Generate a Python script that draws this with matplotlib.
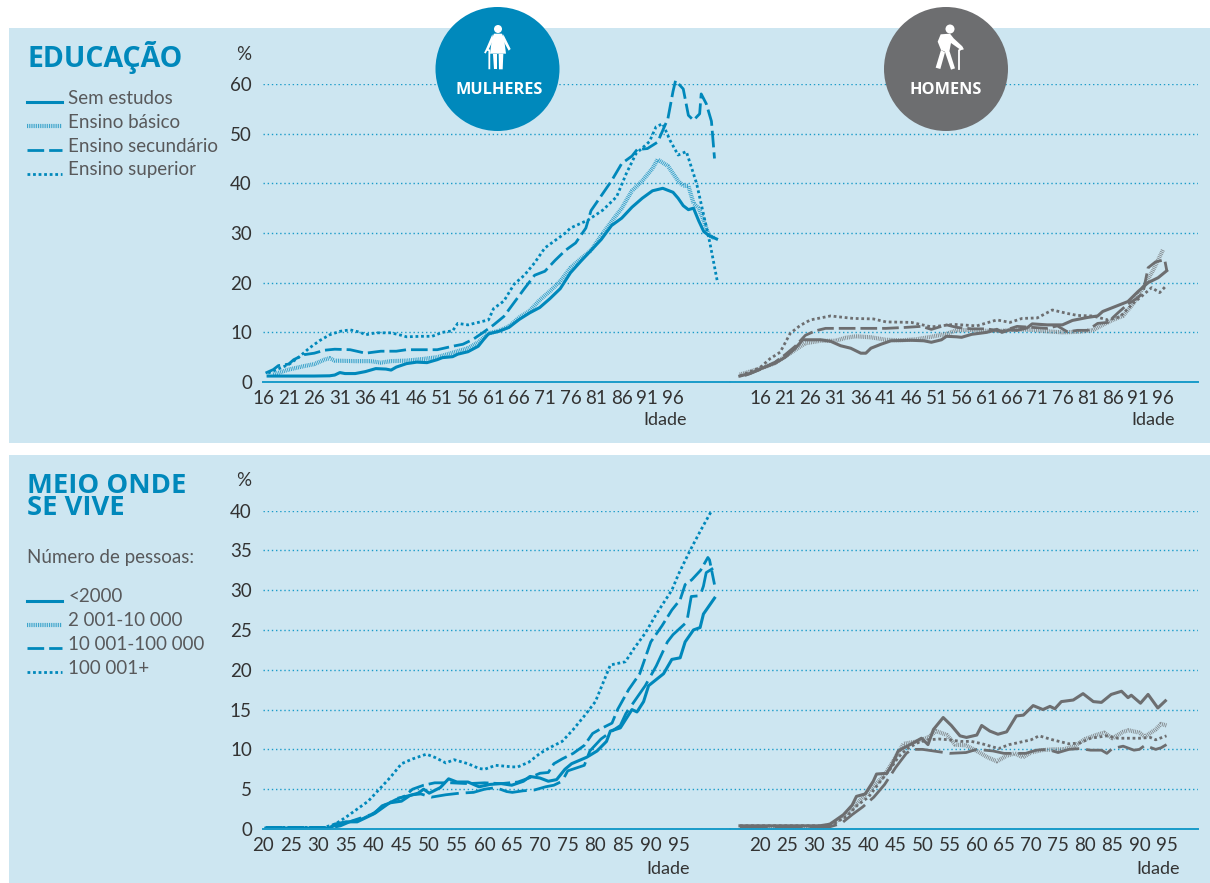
import matplotlib
matplotlib.use("Agg")
import matplotlib.pyplot as plt
from matplotlib.patches import Circle, Rectangle, Polygon

W, H = 1210, 883
blue = "#0088BB"
grey = "#6D6E70"
panel = "#CDE6F1"
txt = "#58595B"
plt.rcParams["font.family"] = ["Lato", "DejaVu Sans"]

# education, women
we_sem_a = [17,21,26,29,30,31,32,34,36,38,40,41,42,44,46,48,50,51,53,54,56,58,59,60,62,64,66,68,70,72,74,76,78,80,82,84,86,88,90,92,94,96,97,98,99,100,101,102,103,104.5]
we_sem_v = [1.2,1.2,1.2,1.25,1.4,1.9,1.7,1.7,2.1,2.7,2.6,2.4,3.0,3.7,4.0,3.9,4.5,4.9,5.1,5.6,6.1,7.2,8.5,9.7,10.2,11,12.6,13.9,15,16.8,18.8,22,24.3,26.5,28.7,31.5,33,35.2,37,38.5,39,38.2,37,35.5,34.7,35,32.5,30.3,29.5,28.8]
we_bas_a = [18,21,24,26,28,29,30,34,37,39,41,44,47,50,53,56,58,60,62,64,66,68,70,72,74,76,78,80,82,84,86,88,90,92,93,95,97,98,99,100,101,102,103,104]
we_bas_v = [1.5,2.5,3.2,3.6,4.5,4.8,4.3,4.2,4.2,3.9,4.2,4.3,4.6,5,5.9,6.8,8,9.8,10.3,11.2,13,14.3,16.5,18.3,20.3,23,24.8,26.5,29.5,32.3,35,38.5,40.5,43,44.8,43.5,40.5,39.5,39.5,36,35,32.5,29.5,29]
we_sec_a = [16.5,18,19,21,22,24,26,28,30,33,36,39,42,44,47,50,53,55,57,59,61,63,65,67,69,71,73,75,77,79,80,82,84,86,88,89,91,93,95,96,96.5,98,99,100,101.2,101.5,102.5,103.5,104.1]
we_sec_v = [1.8,2.5,3.3,3.6,4.5,5.5,5.8,6.4,6.6,6.5,5.8,6.2,6.2,6.5,6.5,6.5,7.2,7.6,8.6,10,11.5,13.2,16,18.8,21.5,22.3,24.5,26.5,28,31,34.5,37.5,40.5,44,45.5,46.8,47,48.3,53,58.5,60.7,59,53.7,52.7,54,58,56,52.5,45]
we_sup_a = [17,21,23,25,27,29,31,33,35,36,38,41,43,44,47,49,51,53,54,56,58,60,61,63,65,67,69,71,73,75,76,79.4,82.3,85,86.9,88.8,91.4,92.7,94,95.4,97,98.6,100.6,101.9,103.2,104.7]
we_sup_v = [1.8,3.5,5,6.8,8.3,9.5,10.2,10.5,10,9.5,9.9,9.9,9.4,9.1,9.2,9.2,10,10.3,11.8,11.5,12,12.5,14.8,16.3,19.7,21.5,24,27,28.5,30,31,32.6,34.6,37.3,42,46,48.4,51.4,52,48.7,45.7,46.4,40,34,28,20]

# education, men
me_sem_a = [12,14,16,19,21,23,24.5,26,28,30,32,34,36,37,38,40,42,46,48.5,50,52,53,55,56,58,61,63,64,65.5,67,69,70,73,76,78,81,83,84,87,89,91,93,95,96.7]
me_sem_v = [1.2,1.7,2.6,3.8,5,6.8,8.5,8.5,8.5,8.2,7.3,6.8,5.8,5.8,6.8,7.6,8.3,8.4,8.3,8,8.5,9.2,9.1,9,9.6,10,10.6,10,10.5,10.4,10.9,11.7,11.5,11.5,12.4,13,13.3,14.2,15.4,16.2,18.2,20,21,22.4]
me_bas_a = [12,16,19,21,23,25,28,31,33,35,38,41,44,47,50,53,55,58,61,64,67,70,73,76,79,82,84,86,88,90,92,94,96]
me_bas_v = [1.5,2.7,3.8,5.1,6.5,7.8,8.3,8.3,8.9,9.2,9,8.5,8.4,8.6,9.1,9.7,10.4,10.5,10.3,10.3,10.6,10.5,10.2,10,10.1,10.4,11.5,12.5,13.3,15.7,19,22.5,26.7]
me_sec_a = [13,16,19,21,23,25,27,29,33,37,41,45,48,50,53,55,58,61,64,67,70,73,75,77,79,81,83,85,87,89,91,92,92.5,93,94.5,96.3,96.7]
me_sec_v = [1.3,2.5,4,5.5,7.2,9.4,10.3,10.8,10.8,10.8,10.8,11,11.2,10.6,11.5,11,10.7,10.7,10.2,11.2,11,10.8,11.3,10.1,10.4,10.4,11.8,12,13.9,15.7,17,18,20.5,23,24.2,24.6,22.5]
me_sup_a = [12,16,18,20,22,24,26,30,34.5,38.5,41,46,50,54.5,59,63,65.6,68,71,74,77,79,82,85,87.4,90,92,93.7,95.3,96.7]
me_sup_v = [1.2,2.9,4.7,6,9.8,11.4,12.5,13.3,12.8,12.7,12.1,12,11.1,11.6,11.3,12.5,12,12.8,12.9,14.5,13.8,13.4,13.3,12.5,13.1,15.8,17.5,19,18,19.5]

# place of living, women
wm_a_a = [20.5,30,32,32.9,35,37,38.5,40,41.5,43,45,46.5,48,49,50,52,53.5,55,57,59,61,63,64.9,67,68.2,70,71.5,73,74.5,75.7,78.4,80.3,82,82.7,84.5,86.6,87.5,88.7,89.6,92.3,93.8,95.3,96.2,97.7,98.9,99.5,101.5]
wm_a_v = [0.1,0.1,0.1,0.6,0.9,0.9,1.4,1.9,2.9,3.3,3.5,4.2,4.5,5,4.5,5.2,6.3,5.9,5.9,5.3,5.6,5.7,5.5,6,6.6,6.4,6.0,6.2,7.5,8.2,9,9.8,11,12.3,12.7,15,14.7,16,18,19.5,21.3,21.5,23.5,25,25.3,27,29]
wm_b_a = [20.5,32,34,36,40.3,43.9,47,48.5,50.4,53,55.5,58,60,62,64,65,67,69,71,72.5,74,75,78,79,81,83,84.5,85.5,87,89,91,93,94,96.5,97.3,98.9,99.5,100,101.6]
wm_b_v = [0.1,0.1,0.4,1,2,3.8,4.3,4.4,4.0,4.3,4.5,4.6,5,5.2,4.7,4.6,4.8,4.9,5.3,5.5,6,7.3,8,9.8,11.3,12.3,13,14.5,16,18,20.5,23.5,24.4,26,29.2,29.3,30.5,32.2,32.9]
wm_c_a = [20.5,32,35,38,40,42,44,45.5,47,49,51,54,57,60,63,66,68,70,71.5,72.5,74,76,78,79.5,81,83,84,86,88,90,92,93.8,95.3,96.2,97.4,99,100.3,100.6,101.5]
wm_c_v = [0.2,0.2,0.8,1.3,2,3,3.7,4.1,5,5.5,5.8,5.8,5.7,5.8,5.7,5.9,6.4,7,7.1,8.2,8.8,9.5,10.5,12,12.6,13.3,15,17.5,19.5,23.5,25.5,27.5,28.8,30.7,31.3,32.5,34.1,33.8,30.7]
wm_d_a = [20.5,31,33,35,37,39,41,43,45,47,49.5,51,53,54.5,57,59,60,62,65,66,68,70,72,74,76,78,80,82.7,85.4,87,89,91,93.8,95,97.1,99,101]
wm_d_v = [0.2,0.2,0.6,1.5,2.5,3.5,5,6.5,8.2,8.8,9.4,9,8.3,8.7,8.2,7.6,7.5,8,7.8,7.8,8.4,9.5,10.3,11,12.5,14.2,16,20.6,21,22.7,24.6,27,30,32,35,37.5,40]

# place of living, men
mm_a_a = [16.3,31,32.9,35.4,37,37.8,39.4,40.9,41.5,43.4,44.3,45.5,47.7,49.8,51,52,53.8,55.3,56.9,58.1,60,60.9,62.4,63.9,65.5,67.3,68.6,70.4,72.2,73.5,74.4,75.6,77.8,79.6,81.5,83,84.8,86.7,87.9,88.5,90.2,91.6,93.4,94.8]
mm_a_v = [0.4,0.4,0.6,1.8,3,4.1,4.4,6,6.9,7,8,9.8,10.6,11.4,10.6,12.5,14,13,11.7,11.5,11.8,13,12.3,11.9,12.2,14.2,14.3,15.5,15,15.4,15.1,16,16.2,17,16,15.9,16.9,17.3,16.5,16.8,15.8,16.9,15.2,16.1]
mm_b_a = [16.3,31.5,33,35,37,39,41,43,45,46.5,49,51,52.5,54.5,56,58,60,62,63.7,65.5,67,68.5,70,72,74,76,78,80,82,83.5,85,87,88,90,91,93,94,95]
mm_b_v = [0.2,0.2,0.6,1.4,2.6,4,5.4,6.8,9,10.7,11,11.5,12.3,11.8,10.6,10.5,9.8,9,8.5,9.2,9.5,9,9.6,9.9,10,10,10.4,11.3,11.8,12.1,11.4,12.2,12.4,12.1,11.6,12.5,13.2,13]
mm_c_a = [16.3,33,35,37,39,41,43,45,47,48,50,52,55,58,60,63,65,67,69,71,73,75,77,79,81,83,84,85,87,89,90,91,93,94,95]
mm_c_v = [0.3,0.3,0.7,1.8,2.8,4,5.6,7.7,9.5,10,10,9.8,9.5,9.6,10,9.8,9.5,9.5,9.5,9.9,10,9.6,10,10.1,9.9,9.9,9.5,10.1,10.4,9.9,10,10.5,10,10.2,10.6]
mm_d_a = [16.3,32,34,36,38,40,42,44,45.5,47,49,51,53,55,57,59,61,64,66,68,70,71.5,74,77,79,81,84,86,88,90,92,93,95]
mm_d_v = [0.4,0.4,0.8,1.6,3,4,5.8,7.5,9,10,10.8,11.2,11.3,11.2,11,11,10.7,10.1,10.6,10.9,11.2,11.7,11.2,10.7,10.8,11.4,11.7,11.4,11.4,11.4,11.5,11.2,11.7]

edu_ticks = list(range(16, 97, 5))
mei_ticks = list(range(20, 96, 5))
edu_y = [0, 10, 20, 30, 40, 50, 60]
mei_y = [0, 5, 10, 15, 20, 25, 30, 35, 40]
edu_legend = ["Sem estudos", "Ensino básico", "Ensino secundário", "Ensino superior"]
mei_legend = ["<2000", "2 001-10 000", "10 001-100 000", "100 001+"]

solid = dict(ls="-", lw=2.2)
hatch = dict(ls=(0, (0.22, 0.22)), lw=3.0, alpha=0.75)
dashed = dict(ls=(0, (6, 1.8)), lw=2.0)
longdash = dict(ls=(0, (10, 2.5)), lw=2.0)
dotted = dict(ls=(0, (1, 1)), lw=2.0)


def px_axes(x0, x1, ytop, ybot):
    return fig.add_axes([x0 / W, 1 - ybot / H, (x1 - x0) / W, (ybot - ytop) / H])


def setup(ax, xlim, ymax, xticks, yticks, show_y):
    ax.set_xlim(*xlim)
    ax.set_ylim(0, ymax)
    ax.patch.set_alpha(0)
    for s in ["top", "left", "right"]:
        ax.spines[s].set_visible(False)
    ax.spines["bottom"].set_color("#1A9BC9")
    ax.spines["bottom"].set_linewidth(1.4)
    ax.set_xticks(xticks)
    ax.set_yticks(yticks)
    ax.tick_params(length=0, labelsize=13.5, labelcolor="#333333", pad=6)
    ax.tick_params(axis="y", labelleft=show_y, pad=8)
    ax.grid(axis="y", color="#1A9BC9", lw=1.0, ls=(0, (1, 2)))
    ax.grid(axis="x", visible=False)
    ax.set_axisbelow(True)


def draw(ax, a, v, color, style):
    ax.plot(a, v, color=color, clip_on=False, solid_joinstyle="round", **style)


fig = plt.figure(figsize=(W / 100, H / 100), dpi=100)

bg = fig.add_axes([0, 0, 1, 1], zorder=0)
bg.set_xlim(0, W)
bg.set_ylim(H, 0)
bg.axis("off")
bg.add_patch(Rectangle((9, 28), W - 9, 415, color=panel, lw=0))
bg.add_patch(Rectangle((9, 455), W - 9, 428, color=panel, lw=0))

ax1 = px_axes(263, 730, 84, 382)
ax2 = px_axes(730, 1198, 84, 382)
ax3 = px_axes(263, 730, 510.5, 829)
ax4 = px_axes(730, 1198, 510.5, 829)
for ax in [ax1, ax2, ax3, ax4]:
    ax.set_zorder(1)

setup(ax1, (16, 16 + 467 / 5.125), 60, edu_ticks, edu_y, True)
setup(ax2, (16 - 30 / 5.04, 16 + 438 / 5.04), 60, edu_ticks, edu_y, False)
setup(ax3, (20, 20 + 467 / 5.54), 40, mei_ticks, mei_y, True)
setup(ax4, (20 - 30 / 5.42, 20 + 438 / 5.42), 40, mei_ticks, mei_y, False)

draw(ax1, we_bas_a, we_bas_v, blue, hatch)
draw(ax1, we_sem_a, we_sem_v, blue, solid)
draw(ax1, we_sec_a, we_sec_v, blue, dashed)
draw(ax1, we_sup_a, we_sup_v, blue, dotted)

draw(ax2, me_bas_a, me_bas_v, grey, hatch)
draw(ax2, me_sem_a, me_sem_v, grey, solid)
draw(ax2, me_sec_a, me_sec_v, grey, dashed)
draw(ax2, me_sup_a, me_sup_v, grey, dotted)

draw(ax3, wm_b_a, wm_b_v, blue, longdash)
draw(ax3, wm_a_a, wm_a_v, blue, solid)
draw(ax3, wm_c_a, wm_c_v, blue, dashed)
draw(ax3, wm_d_a, wm_d_v, blue, dotted)

draw(ax4, mm_b_a, mm_b_v, grey, hatch)
draw(ax4, mm_a_a, mm_a_v, grey, solid)
draw(ax4, mm_c_a, mm_c_v, grey, longdash)
draw(ax4, mm_d_a, mm_d_v, grey, dotted)

# overlay for titles, legends and the two badges
top = fig.add_axes([0, 0, 1, 1], zorder=5)
top.set_xlim(0, W)
top.set_ylim(H, 0)
top.axis("off")
top.patch.set_alpha(0)

bold = ["Open Sans", "DejaVu Sans"]
top.text(27, 58, "EDUCAÇÃO", color=blue, fontsize=20.5, fontweight="bold", family=bold, va="center")
top.text(27, 497, "MEIO ONDE\nSE VIVE", color=blue, fontsize=19.7, fontweight="bold", family=bold, va="center", linespacing=0.8)
top.text(27, 557, "Número de pessoas:", color=txt, fontsize=13.5, va="center")

styles = [solid, hatch, dashed, dotted]
for i, lab in enumerate(edu_legend):
    y = 97 + i * 24
    top.plot([27, 62], [y + 5, y + 5], color=blue, **styles[i])
    top.text(68, y + 1, lab, color=txt, fontsize=13.5, va="center")
for i, lab in enumerate(mei_legend):
    y = 596 + i * 23.7
    top.plot([27, 62], [y + 5, y + 5], color=blue, **styles[i])
    top.text(68, y + 1, lab, color=txt, fontsize=13.5, va="center")

for x, y in [(244, 55), (244, 481)]:
    top.text(x, y, "%", color="#333333", fontsize=13.5, ha="center", va="center")
for x, y in [(665, 420), (1153, 420), (668, 869), (1158, 869)]:
    top.text(x, y, "Idade", color="#333333", fontsize=13, ha="center", va="center")

top.add_patch(Circle((497.5, 69), 62, color="#0089BC", lw=0))
top.add_patch(Circle((946, 69), 62, color="#6D6E70", lw=0))
top.text(499.5, 90, "MULHERES", color="white", fontsize=11.7, fontweight="bold", family=bold, ha="center", va="center")
top.text(946, 90, "HOMENS", color="white", fontsize=11.7, fontweight="bold", family=bold, ha="center", va="center")


def zw(p):
    return [(430 + a / 3, 5 + b / 3) for a, b in p]


def zm(p):
    return [(875 + a / 3, 5 + b / 3) for a, b in p]


# woman icon
top.add_patch(Circle(zw([(204, 72)])[0], 4.0, color="white", lw=0))
top.add_patch(Polygon(zw([(192, 86), (216, 86), (222, 100), (228, 146), (180, 146), (186, 100)]), color="white", lw=0))
top.add_patch(Polygon(zw([(187, 88), (168, 132), (174, 137), (190, 104)]), color="white", lw=0))
top.add_patch(Polygon(zw([(220, 88), (242, 132), (236, 137), (218, 104)]), color="white", lw=0))
top.add_patch(Polygon(zw([(189, 146), (202, 146), (202, 193), (191, 193)]), color="white", lw=0))
top.add_patch(Polygon(zw([(206, 146), (220, 146), (218, 193), (207, 193)]), color="white", lw=0))
top.plot(*zip(*zw([(166, 142), (170, 134), (178, 136), (178, 190)])), color="white", lw=1.3)

# man icon
top.add_patch(Circle(zm([(225, 72)])[0], 4.5, color="white", lw=0))
top.add_patch(Polygon(zm([(197, 88), (225, 86), (236, 100), (262, 124), (266, 134), (256, 134), (228, 114), (222, 145), (198, 135), (188, 110)]), color="white", lw=0))
top.add_patch(Polygon(zm([(198, 135), (210, 142), (196, 192), (182, 188)]), color="white", lw=0))
top.add_patch(Polygon(zm([(208, 135), (224, 140), (240, 190), (228, 194)]), color="white", lw=0))
top.plot(*zip(*zm([(262, 130), (252, 136), (252, 192)])), color="white", lw=1.3)

fig.savefig("out.png", dpi=100)
